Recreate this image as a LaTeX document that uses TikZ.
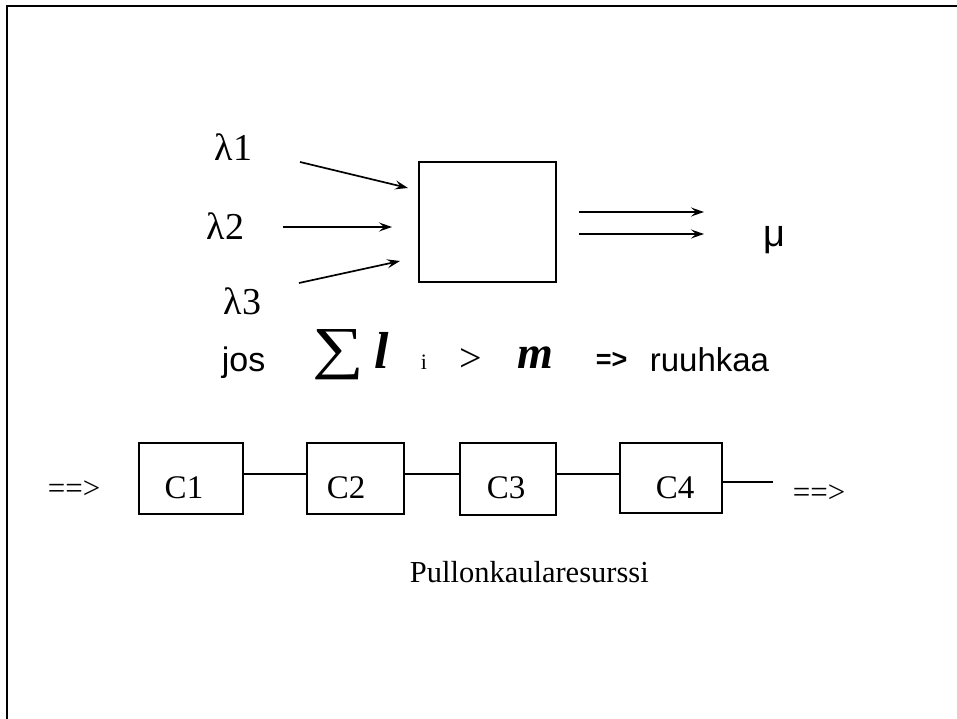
\documentclass[tikz,border=0pt]{standalone}
\usepackage{fontspec}
\setmainfont{Liberation Serif}
\newfontfamily\arialf{Liberation Sans}
\usetikzlibrary{arrows.meta}
\begin{document}
\begin{tikzpicture}[x=1pt,y=-1pt,line width=1.7pt,
  arr/.style={-{Stealth[length=13pt,width=9pt,inset=5pt]}},
  bx/.style={draw,line width=1.7pt,inner sep=0pt},
  txt/.style={inner sep=0pt,anchor=base west},
  serif/.style={font=\fontsize{#1}{#1}\selectfont},
  sans/.style={font=\fontsize{#1}{#1}\selectfont\arialf}]
\useasboundingbox (0,0) rectangle (957,719);
% frame
\coordinate (f1) at (7,719);
\coordinate (f2) at (7,6);
\coordinate (f3) at (957,6);
\draw (f1) -- (f2) -- (f3);
% main box
\node[bx,minimum width=137pt,minimum height=120pt] (main) at (487.5,222) {};
% lambda labels
\node[txt,serif=38] (l1) at (214,161) {λ1};
\node[txt,serif=38] (l2) at (206,240) {λ2};
\node[txt,serif=38] (l3) at (223,314) {λ3};
% input arrows
\coordinate (a1s) at (300,162); \coordinate (a1e) at (408,188);
\coordinate (a2s) at (283,227); \coordinate (a2e) at (392,227);
\coordinate (a3s) at (299,283); \coordinate (a3e) at (400,261);
\draw[arr] (a1s) -- (a1e);
\draw[arr] (a2s) -- (a2e);
\draw[arr] (a3s) -- (a3e);
% output arrows
\coordinate (o1s) at (579,212); \coordinate (o1e) at (704,212);
\coordinate (o2s) at (579,234); \coordinate (o2e) at (704,234);
\draw[arr] (o1s) -- (o1e);
\draw[arr] (o2s) -- (o2e);
\node[txt,sans=38] (mu) at (763,246) {μ};
% condition line
\node[txt,sans=34] (jos) at (221,371) {jos};
\node[txt,serif=58,xscale=1.25] (sig) at (311,367) {∑};
\node[txt,font=\fontsize{52}{52}\selectfont\bfseries\itshape] (lam) at (374,368) {l};
\node[txt,serif=22] (idx) at (420,369) {i};
\node[txt,serif=40] (gt) at (459,371) {>};
\node[txt,font=\fontsize{46}{46}\selectfont\bfseries\itshape] (mm) at (517,368) {m};
\node[txt,font=\fontsize{27}{27}\selectfont\arialf\bfseries] (impl) at (595,368) {=>};
\node[txt,sans=33] (ruu) at (649,371) {ruuhkaa};
% chain
\node[txt,serif=31] (inarr) at (47,498) {==>};
\node[bx,minimum width=104pt,minimum height=71pt] (c1) at (191,478.5) {};
\node[bx,minimum width=97pt,minimum height=71pt] (c2) at (355.5,478.5) {};
\node[bx,minimum width=96pt,minimum height=72pt] (c3) at (508,479) {};
\node[bx,minimum width=102pt,minimum height=70pt] (c4) at (671,478) {};
\node[serif=33,inner sep=0pt,anchor=base] (t1) at (184,498) {C1};
\node[serif=33,inner sep=0pt,anchor=base] (t2) at (346,498) {C2};
\node[serif=33,inner sep=0pt,anchor=base] (t3) at (506,498) {C3};
\node[serif=33,inner sep=0pt,anchor=base] (t4) at (675,498) {C4};
\coordinate (yc) at (0,474);
\coordinate (yo) at (0,482);
\coordinate (cend) at (773,482);
\draw (c1.east |- yc) -- (c2.west |- yc);
\draw (c2.east |- yc) -- (c3.west |- yc);
\draw (c3.east |- yc) -- (c4.west |- yc);
\draw (c4.east |- yo) -- (cend);
\node[txt,serif=31] (outarr) at (792,502) {==>};
\node[txt,serif=30.5] (pk) at (409,582) {Pullonkaularesurssi};
\end{tikzpicture}
\end{document}
